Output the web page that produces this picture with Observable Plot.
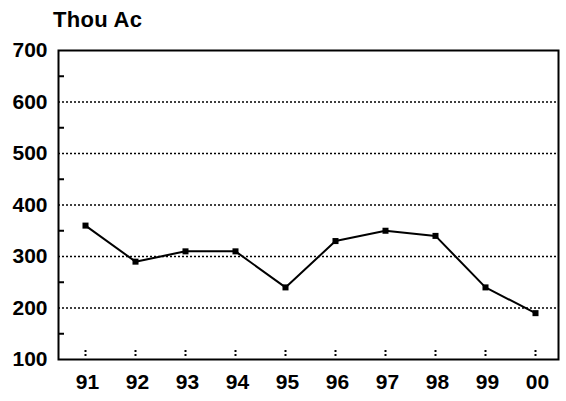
<!DOCTYPE html>
<html>
<head>
<meta charset="utf-8">
<script src="https://cdn.jsdelivr.net/npm/d3@7"></script>
<script src="https://cdn.jsdelivr.net/npm/@observablehq/plot@0.6"></script>
<style>
  body { margin: 0; background: #fff; }
  #title { height: 36px; position: relative; font-family: "Liberation Sans", Arial, sans-serif; font-weight: bold; font-size: 22px; }
  #title span { position: absolute; left: 53px; top: 7px; line-height: 26px; letter-spacing: 0.3px; }
</style>
</head>
<body>
<div id="title"><span>Thou Ac</span></div>
<div id="chart"></div>
<script>
const years = ["91", "92", "93", "94", "95", "96", "97", "98", "99", "00"];
const acres = [360, 290, 310, 310, 240, 330, 350, 340, 240, 190];
const yTicks = [100, 200, 300, 400, 500, 600, 700];
const gridValues = [200, 300, 400, 500, 600];
const minorTicks = [150, 250, 350, 450, 550, 650];

const data = years.map((y, i) => ({year: y, value: acres[i]}));

const chart = Plot.plot({
  width: 566,
  height: 365,
  marginTop: 14,
  marginBottom: 42,
  marginLeft: 58,
  marginRight: 8,
  style: {fontFamily: "Liberation Sans, Arial, sans-serif", fontWeight: "bold", fontSize: "21px", color: "#000", background: "#fff"},
  x: {type: "point", domain: years, padding: 0.423, align: 0.53},
  y: {domain: [100, 700]},
  marks: [
    Plot.gridY(gridValues, {stroke: "#000", strokeOpacity: 1, strokeWidth: 1.5, strokeDasharray: "2,2"}),
    Plot.axisY(yTicks, {tickSize: 0, tickPadding: 11, label: null}),
    Plot.axisY(minorTicks, {tickSize: -6, text: null, label: null, stroke: "#000", strokeWidth: 2}),
    Plot.axisX(years, {tickSize: 0, tickPadding: 15, label: null, dx: 2}),
    Plot.axisX(years, {tickSize: -9, text: null, label: null, stroke: "#000", strokeWidth: 2, strokeDasharray: "0,3,2,2,2,10"}),
    Plot.line(data, {x: "year", y: "value", stroke: "#000", strokeWidth: 2}),
    Plot.dot(data, {x: "year", y: "value", symbol: "square", r: 3.4, fill: "#000"}),
    Plot.frame({stroke: "#000", strokeWidth: 2})
  ]
});
document.getElementById("chart").appendChild(chart);
</script>
</body>
</html>
